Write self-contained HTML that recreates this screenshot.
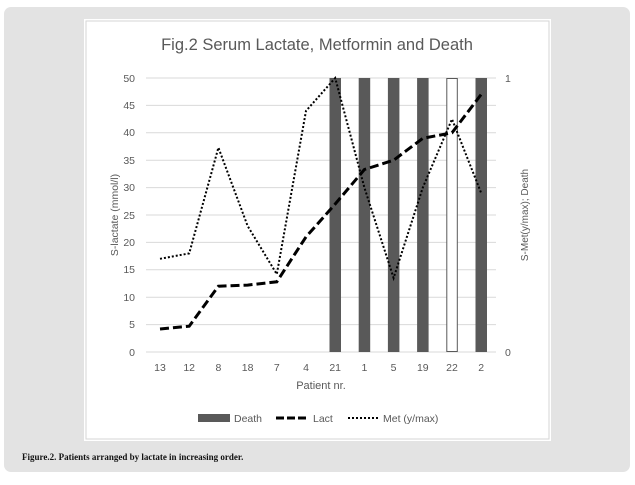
<!DOCTYPE html>
<html><head><style>
body{margin:0;width:635px;height:480px;background:#fff;overflow:hidden;font-family:"Liberation Sans",sans-serif}
</style></head><body>
<svg width="635" height="480" xmlns="http://www.w3.org/2000/svg">
<rect x="4" y="7" width="626" height="465" rx="7" fill="#e3e3e3"/>
<rect x="84" y="19" width="467" height="422" fill="#fff"/>
<rect x="86" y="21" width="463" height="418" fill="none" stroke="#d6d6d6" stroke-width="1"/>
<text x="317" y="50" text-anchor="middle" font-size="16.5" fill="#595959">Fig.2 Serum Lactate, Metformin and Death</text>
<g stroke="#d9d9d9" stroke-width="1">
<line x1="146" x2="496" y1="78" y2="78"/><line x1="146" x2="496" y1="105.4" y2="105.4"/>
<line x1="146" x2="496" y1="132.8" y2="132.8"/><line x1="146" x2="496" y1="160.2" y2="160.2"/>
<line x1="146" x2="496" y1="187.6" y2="187.6"/><line x1="146" x2="496" y1="215" y2="215"/>
<line x1="146" x2="496" y1="242.4" y2="242.4"/><line x1="146" x2="496" y1="269.8" y2="269.8"/>
<line x1="146" x2="496" y1="297.2" y2="297.2"/><line x1="146" x2="496" y1="324.6" y2="324.6"/>
<line x1="146" x2="496" y1="352" y2="352"/>
</g>
<g font-size="10.5" fill="#595959" text-anchor="end">
<text x="135" y="82">50</text><text x="135" y="109">45</text><text x="135" y="136">40</text>
<text x="135" y="164">35</text><text x="135" y="191">30</text><text x="135" y="219">25</text>
<text x="135" y="246">20</text><text x="135" y="273">15</text><text x="135" y="301">10</text>
<text x="135" y="328">5</text><text x="135" y="356">0</text>
</g>
<text x="505" y="82" font-size="10.5" fill="#595959">1</text>
<text x="505" y="356" font-size="10.5" fill="#595959">0</text>
<text transform="translate(118,215) rotate(-90)" text-anchor="middle" font-size="10.5" fill="#595959">S-lactate (mmol/l)</text>
<text transform="translate(528,215) rotate(-90)" text-anchor="middle" font-size="10" fill="#595959">S-Met(y/max); Death</text>
<g fill="#595959">
<rect x="329.5" y="78" width="11.5" height="274"/>
<rect x="358.7" y="78" width="11.5" height="274"/>
<rect x="387.9" y="78" width="11.5" height="274"/>
<rect x="417.1" y="78" width="11.5" height="274"/>
<rect x="475.5" y="78" width="11.5" height="274"/>
</g>
<rect x="446.8" y="78.5" width="10.5" height="273" fill="#fff" stroke="#595959" stroke-width="1"/>
<g font-size="10.5" fill="#595959" text-anchor="middle">
<text x="160" y="371">13</text><text x="189.2" y="371">12</text><text x="218.4" y="371">8</text>
<text x="247.6" y="371">18</text><text x="276.8" y="371">7</text><text x="306" y="371">4</text>
<text x="335.2" y="371">21</text><text x="364.4" y="371">1</text><text x="393.6" y="371">5</text>
<text x="422.8" y="371">19</text><text x="452" y="371">22</text><text x="481.2" y="371">2</text>
</g>
<text x="321" y="389" text-anchor="middle" font-size="11" fill="#595959">Patient nr.</text>
<polyline fill="none" stroke="#000" stroke-width="3" stroke-dasharray="9,4" points="160,329 189.2,326.2 218.4,286.2 247.6,285.1 276.8,281.8 306,236.9 335.2,204 364.4,169.5 393.6,160.2 422.8,138.3 452,132.8 481.2,94.4"/>
<polyline fill="none" stroke="#000" stroke-width="2" stroke-dasharray="2,2" points="160,258.8 189.2,253.4 218.4,147.6 247.6,225.9 276.8,274.2 306,110.9 335.2,78 364.4,187.6 393.6,278 422.8,187.6 452,119.1 481.2,193.1"/>
<rect x="198" y="414" width="32" height="8" fill="#595959"/>
<text x="234" y="422" font-size="10.5" fill="#595959">Death</text>
<line x1="276" x2="308" y1="418" y2="418" stroke="#000" stroke-width="3" stroke-dasharray="8,3"/>
<text x="313" y="422" font-size="10.5" fill="#595959">Lact</text>
<line x1="348" x2="379" y1="418" y2="418" stroke="#000" stroke-width="2" stroke-dasharray="2,2"/>
<text x="383" y="422" font-size="10.5" fill="#595959">Met (y/max)</text>
<text x="22" y="460" font-size="9" font-family="Liberation Serif,serif" fill="#111" font-weight="bold">Figure.2. Patients arranged by lactate in increasing order.</text>
</svg>
</body></html>
